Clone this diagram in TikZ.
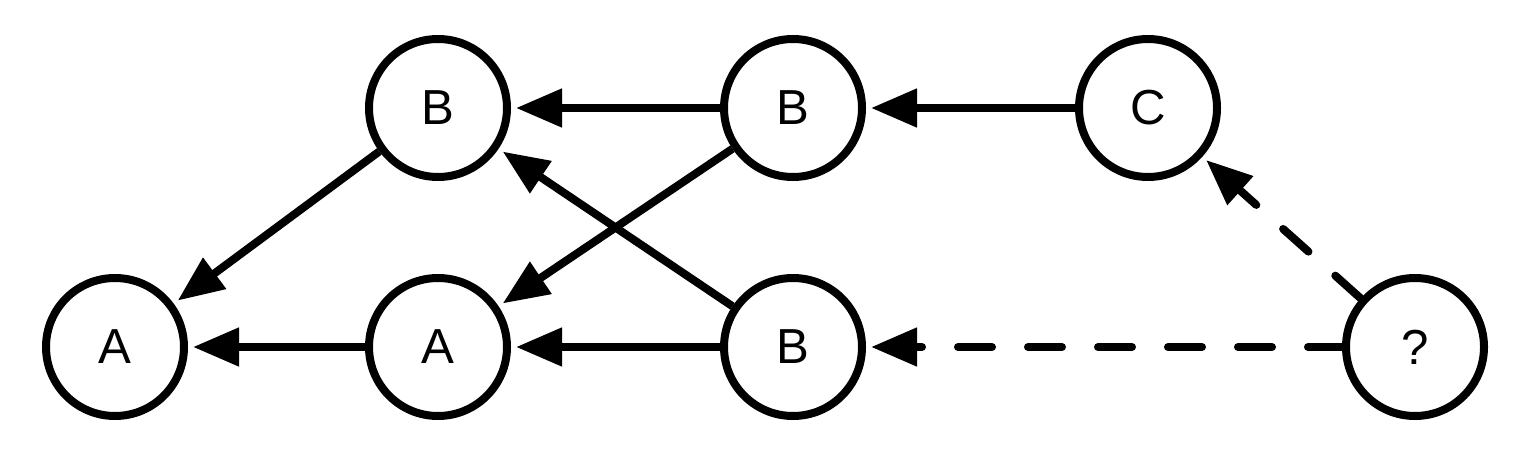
\documentclass[tikz,border=0pt]{standalone}
\usepackage{fontspec}
\setmainfont{Liberation Sans}
\usetikzlibrary{arrows.meta}
\begin{document}
\begin{tikzpicture}
  [every node/.style={circle,draw,line width=0.16cm,minimum size=2.76cm,inner sep=0pt,font=\fontsize{28}{32}\selectfont},
   edge/.style={line width=0.16cm,-{Triangle[length=0.92cm,width=0.74cm]},shorten >=0.1cm},
   guess/.style={edge,dash pattern=on 0.68cm off 0.72cm,line cap=round}]
  \useasboundingbox (0,0) rectangle (30.48,9);
  \node (a1) at (2.3,2.06)   {A};
  \node (b1) at (8.76,6.84)  {B};
  \node (a2) at (8.76,2.06)  {A};
  \node (b2) at (15.86,6.84) {B};
  \node (b3) at (15.86,2.06) {B};
  \node (c1) at (22.96,6.84) {C};
  \node (q1) at (28.3,2.06)  {?};

  \foreach \from/\to in {b1/a1,a2/a1,b2/b1,b2/a2,b3/a2,b3/b1,c1/b2}
    \draw[edge] (\from) -- (\to);
  \foreach \from/\to in {q1/c1,q1/b3}
    \draw[guess] (\from) -- (\to);

\end{tikzpicture}
\end{document}
